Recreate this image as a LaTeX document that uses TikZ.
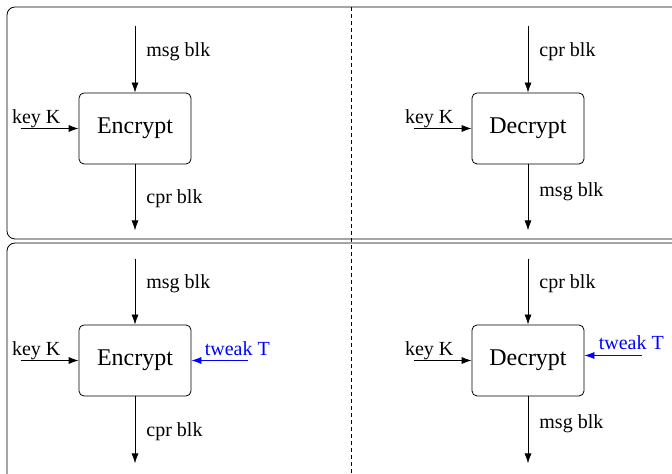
\documentclass[tikz,border=0pt]{standalone}
\usepackage{fontspec}
\setmainfont{Liberation Serif}
\usetikzlibrary{arrows.meta,positioning}
\tikzset{
    cipher-box/.style = {draw, fill=white, thin, rectangle, rounded corners=2.5pt, minimum width=56pt, minimum height=35.5pt, inner sep=0pt, font=\fontsize{12}{14}\selectfont},
    panel-frame/.style = {draw, thin, rounded corners=4pt},
    wire/.style = {thin, -{Latex[length=5pt,width=3.5pt]}},
    tweak-wire/.style = {wire, blue},
    wire-label/.style = {inner sep=0pt, anchor=base west, font=\fontsize{10}{12}\selectfont},
    tweak-label/.style = {wire-label, text=blue},
}

\begin{document}
\begin{tikzpicture}[x=0.5pt, y=-0.5pt]
\useasboundingbox (0,0) rectangle (672,474);
\clip (0,0) rectangle (672,474);
\draw[panel-frame] (7,7) rectangle (690,239);
\draw[panel-frame] (7,243) rectangle (690,490);
\draw[thin, dash pattern=on 2pt off 1.5pt] (351,7) -- (351,474);

\node[cipher-box] (enc) at (135,128.5) {Encrypt};
\coordinate[above=33.5pt of enc] (enc-in);
\coordinate[below=33pt of enc] (enc-out);
\coordinate[left=29pt of enc] (enc-key);
\draw[wire] (enc-in) -- (enc);
\draw[wire] (enc) -- (enc-out);
\draw[wire] (enc-key) -- (enc);
\node[wire-label] (enc-in-lbl) at ([xshift=5.5pt, yshift=18pt]enc.north) {msg blk};
\node[wire-label] (enc-out-lbl) at ([xshift=5.5pt, yshift=-19.5pt]enc.south) {cpr blk};
\node[wire-label] (enc-key-lbl) at ([xshift=-4.5pt, yshift=2.5pt]enc-key) {key K};

\node[cipher-box] (dec) at (528,128.5) {Decrypt};
\coordinate[above=33.5pt of dec] (dec-in);
\coordinate[below=33pt of dec] (dec-out);
\coordinate[left=29pt of dec] (dec-key);
\draw[wire] (dec-in) -- (dec);
\draw[wire] (dec) -- (dec-out);
\draw[wire] (dec-key) -- (dec);
\node[wire-label] (dec-in-lbl) at ([xshift=5.5pt, yshift=18pt]dec.north) {cpr blk};
\node[wire-label] (dec-out-lbl) at ([xshift=5.5pt, yshift=-16pt]dec.south) {msg blk};
\node[wire-label] (dec-key-lbl) at ([xshift=-4.5pt, yshift=2.5pt]dec-key) {key K};

\node[cipher-box] (tenc) at (135,360.5) {Encrypt};
\coordinate[above=33pt of tenc] (tenc-in);
\coordinate[below=33.5pt of tenc] (tenc-out);
\coordinate[left=29pt of tenc] (tenc-key);
\coordinate[right=28.5pt of tenc] (tenc-tweak);
\draw[wire] (tenc-in) -- (tenc);
\draw[wire] (tenc) -- (tenc-out);
\draw[wire] (tenc-key) -- (tenc);
\draw[tweak-wire] (tenc-tweak) -- (tenc);
\node[wire-label] (tenc-in-lbl) at ([xshift=5.5pt, yshift=18pt]tenc.north) {msg blk};
\node[wire-label] (tenc-out-lbl) at ([xshift=5.5pt, yshift=-20pt]tenc.south) {cpr blk};
\node[wire-label] (tenc-key-lbl) at ([xshift=-4.5pt, yshift=2.5pt]tenc-key) {key K};
\node[tweak-label] (tenc-tweak-lbl) at ([xshift=6.5pt, yshift=2.25pt]tenc.east) {tweak T};

\node[cipher-box] (tdec) at (528,360.5) {Decrypt};
\coordinate[above=33pt of tdec] (tdec-in);
\coordinate[below=33.5pt of tdec] (tdec-out);
\coordinate[left=29pt of tdec] (tdec-key);
\coordinate[right=29pt of tdec, yshift=2.5pt] (tdec-tweak);
\draw[wire] (tdec-in) -- (tdec);
\draw[wire] (tdec) -- (tdec-out);
\draw[wire] (tdec-key) -- (tdec);
\draw[tweak-wire] (tdec-tweak) -- (tdec-tweak -| tdec.east);
\node[wire-label] (tdec-in-lbl) at ([xshift=5.5pt, yshift=18pt]tdec.north) {cpr blk};
\node[wire-label] (tdec-out-lbl) at ([xshift=5.5pt, yshift=-16pt]tdec.south) {msg blk};
\node[wire-label] (tdec-key-lbl) at ([xshift=-4.5pt, yshift=2.5pt]tdec-key) {key K};
\node[tweak-label] (tdec-tweak-lbl) at ([xshift=7pt, yshift=5.25pt]tdec.east) {tweak T};
\end{tikzpicture}
\end{document}
